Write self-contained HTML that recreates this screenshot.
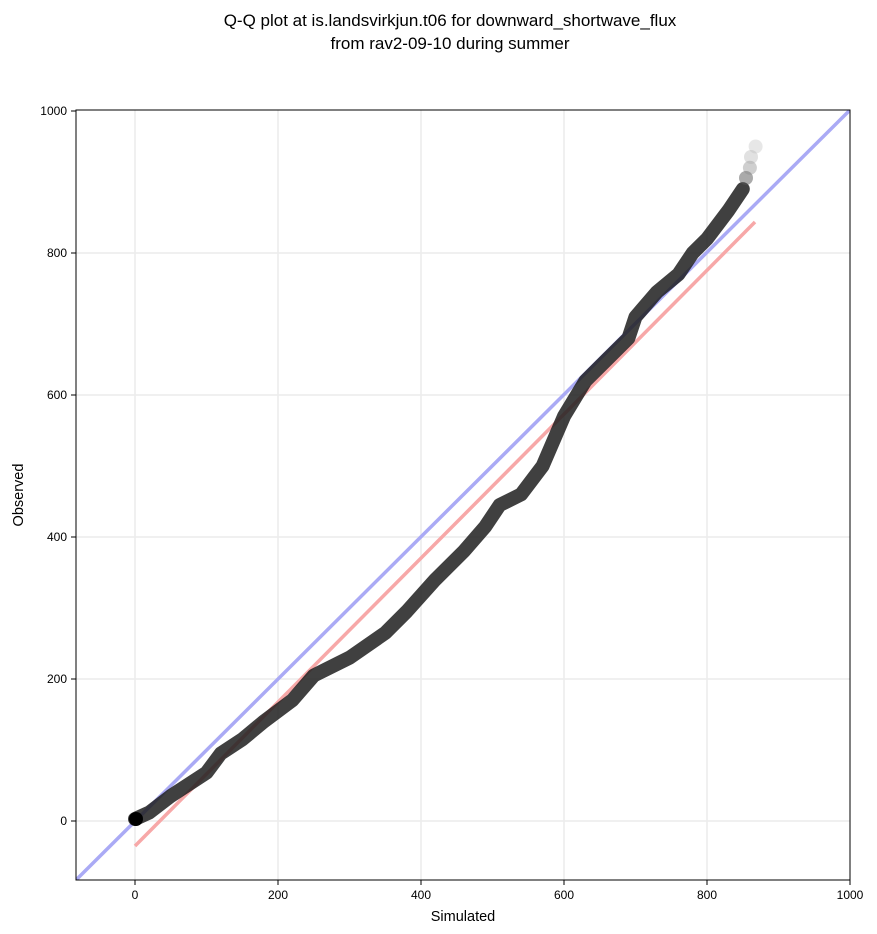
<!DOCTYPE html>
<html><head><meta charset="utf-8"><style>
html,body{margin:0;padding:0;background:#fff;}
svg{display:block;font-family:"Liberation Sans","DejaVu Sans",sans-serif;}
</style></head><body>
<svg width="877" height="934" viewBox="0 0 877 934" xmlns="http://www.w3.org/2000/svg">
<rect width="877" height="934" fill="#fff"/>
<text x="450" y="26" font-size="17" text-anchor="middle" fill="#000">Q-Q plot at is.landsvirkjun.t06 for downward_shortwave_flux</text>
<text x="450" y="49" font-size="17" text-anchor="middle" fill="#000">from rav2-09-10 during summer</text>
<defs><clipPath id="c"><rect x="76" y="110" width="774" height="770"/></clipPath></defs>
<g stroke="#ececec" stroke-width="1.5">
<line x1="135" y1="110" x2="135" y2="880"/><line x1="278" y1="110" x2="278" y2="880"/>
<line x1="421" y1="110" x2="421" y2="880"/><line x1="564" y1="110" x2="564" y2="880"/>
<line x1="707" y1="110" x2="707" y2="880"/>
<line x1="76" y1="821" x2="850" y2="821"/><line x1="76" y1="679" x2="850" y2="679"/>
<line x1="76" y1="537" x2="850" y2="537"/><line x1="76" y1="395" x2="850" y2="395"/>
<line x1="76" y1="253" x2="850" y2="253"/>
</g>
<g clip-path="url(#c)">
<line x1="76" y1="880" x2="850" y2="110" stroke="#aaaaf5" stroke-width="3.5"/>
<line x1="135" y1="846" x2="755" y2="222" stroke="#f7a8a8" stroke-width="3.5"/>
<polyline fill="none" stroke="#1f1f1f" stroke-opacity="0.85" stroke-width="14" stroke-linejoin="round" stroke-linecap="round"
points="135,819 149.3,812.5 170.8,796 206.5,772.7 220.8,753.5 242.3,739.4 263.7,721.6 292.3,700.3 313.8,675.5 349.5,657.7 385.3,632.9 406.7,611.5 435.3,579.6 463.9,551.2 485.4,526.4 499.7,505 521.1,494.4 542.6,466 564,416.3 585.5,380.8 606.9,359.5 628.4,338.2 635.5,316.9 657,292 678.4,274.3 692.7,253 707,238.8 728.5,210.4 742.8,189.1"/>
<circle cx="746" cy="178" r="7" fill="#555" fill-opacity="0.5"/>
<circle cx="749.9" cy="167.8" r="7" fill="#888" fill-opacity="0.4"/>
<circle cx="751" cy="157" r="7" fill="#aaa" fill-opacity="0.35"/>
<circle cx="755.6" cy="146.5" r="7" fill="#bbb" fill-opacity="0.35"/>
<circle cx="136" cy="819" r="7" fill="#000"/>
</g>
<rect x="76" y="110" width="774" height="770" fill="none" stroke="#000" stroke-width="1"/>
<g stroke="#000" stroke-width="1">
<line x1="135" y1="880" x2="135" y2="885"/><line x1="278" y1="880" x2="278" y2="885"/>
<line x1="421" y1="880" x2="421" y2="885"/><line x1="564" y1="880" x2="564" y2="885"/>
<line x1="707" y1="880" x2="707" y2="885"/><line x1="850" y1="880" x2="850" y2="885"/>
<line x1="71" y1="821" x2="76" y2="821"/><line x1="71" y1="679" x2="76" y2="679"/>
<line x1="71" y1="537" x2="76" y2="537"/><line x1="71" y1="395" x2="76" y2="395"/>
<line x1="71" y1="253" x2="76" y2="253"/><line x1="71" y1="111" x2="76" y2="111"/>
</g>
<g font-size="12" fill="#000" text-anchor="middle">
<text x="135" y="899">0</text><text x="278" y="899">200</text><text x="421" y="899">400</text>
<text x="564" y="899">600</text><text x="707" y="899">800</text><text x="850" y="899">1000</text>
</g>
<g font-size="12" fill="#000" text-anchor="end">
<text x="67" y="825">0</text><text x="67" y="683">200</text><text x="67" y="541">400</text>
<text x="67" y="399">600</text><text x="67" y="257">800</text><text x="67" y="115">1000</text>
</g>
<text x="463" y="921" font-size="14.5" text-anchor="middle">Simulated</text>
<text x="23" y="495" font-size="14.5" text-anchor="middle" transform="rotate(-90 23 495)">Observed</text>
</svg>
</body></html>
